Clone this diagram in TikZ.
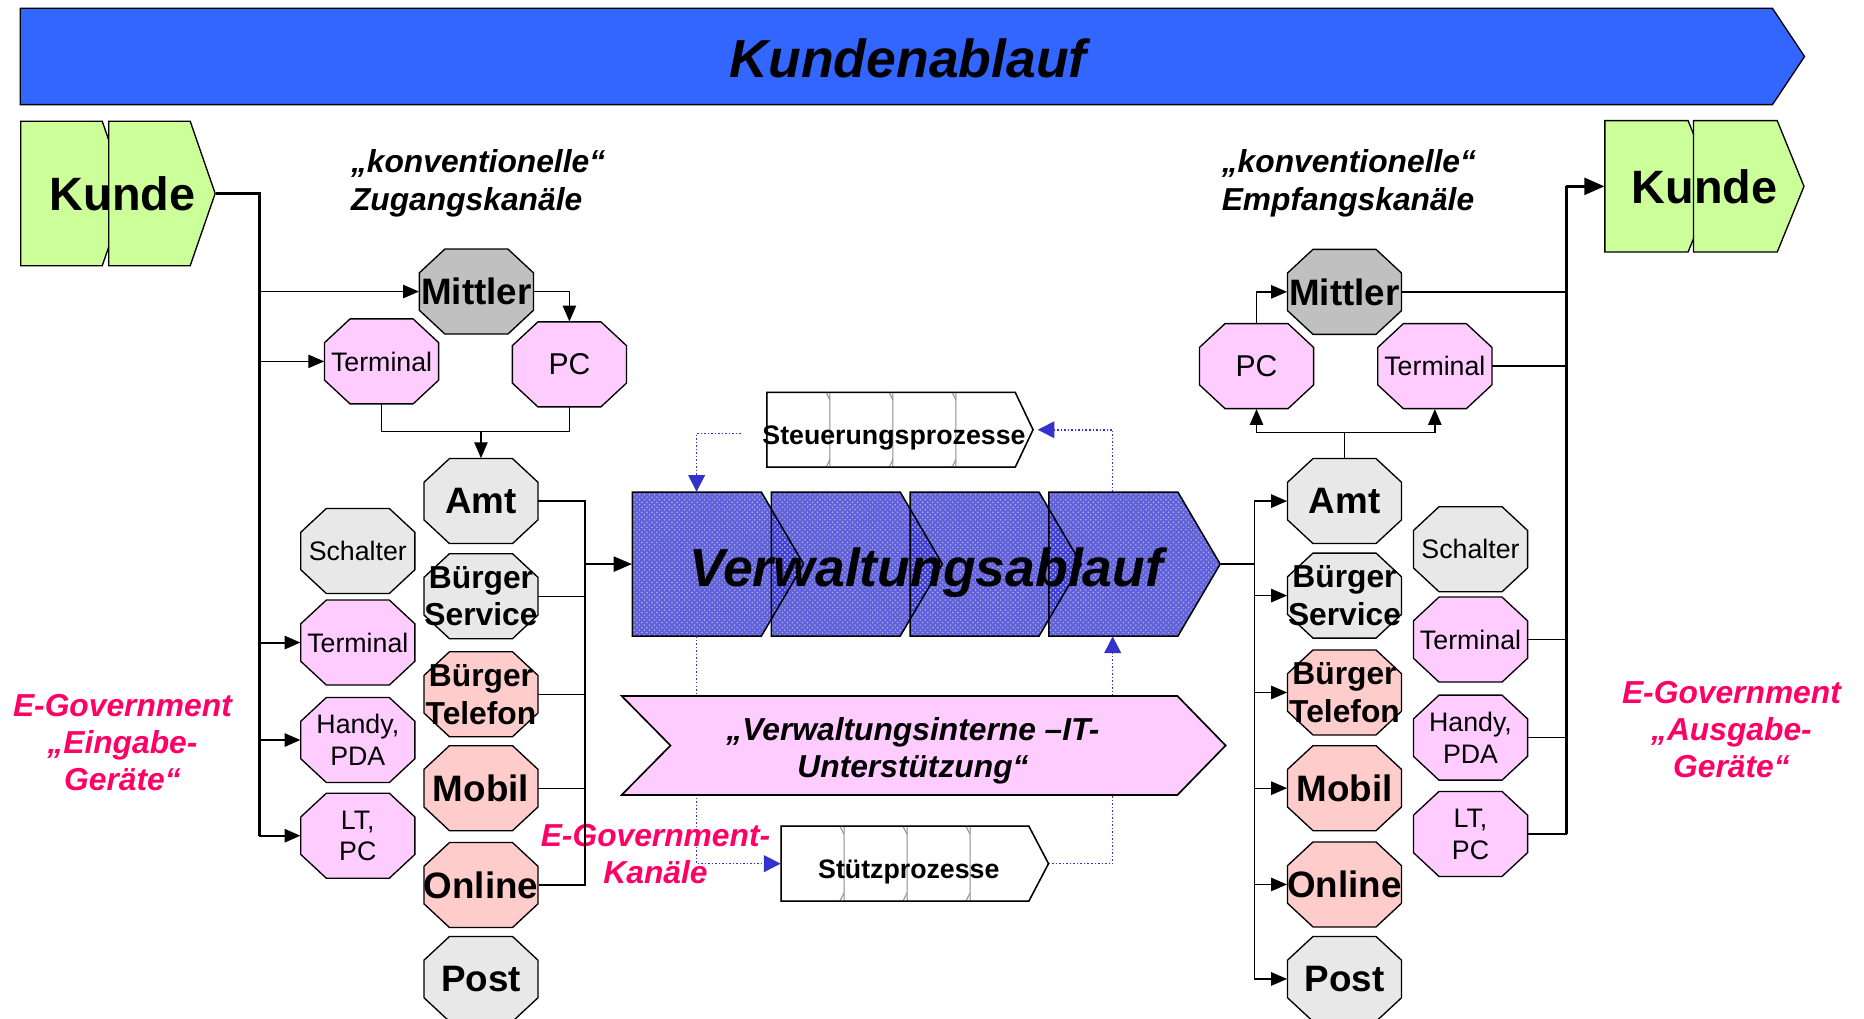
\documentclass[tikz,border=0pt]{standalone}
\usepackage{fontspec}
\setmainfont{Liberation Sans}
\usetikzlibrary{arrows.meta,patterns}
\definecolor{FlowBlue}{HTML}{3366FF}
\definecolor{KundeGreen}{HTML}{CCFF99}
\definecolor{MittlerGray}{HTML}{C0C0C0}
\definecolor{OfficeGray}{HTML}{E8E8E8}
\definecolor{DevicePink}{HTML}{FFCCFF}
\definecolor{ChannelRose}{HTML}{FFCCCC}
\definecolor{GovMagenta}{HTML}{FF0066}
\definecolor{DotBlue}{HTML}{3333CC}
\definecolor{AdminBlue}{HTML}{3A3ACF}
\tikzset{
  octbox/.style={minimum width=68.3pt, minimum height=50.9pt, inner sep=0pt, align=center, text depth=0pt},
  octbig/.style={octbox, font=\fontsize{22}{24}\selectfont\bfseries},
  octtwo/.style={octbox, font=\fontsize{19}{22.5}\selectfont\bfseries},
  octsmall/.style={octbox, font=\fontsize{16}{19}\selectfont},
  octpc/.style={octbox, font=\fontsize{18}{20}\selectfont},
  area/.style 2 args={minimum width=#1*0.7113pt, minimum height=#2*0.7113pt, inner sep=0pt, text depth=0pt},
  caption/.style={font=\fontsize{19}{22.8}\selectfont\bfseries\itshape, align=left, text depth=0pt, inner sep=0pt},
  govtext/.style={font=\fontsize{19}{22.2}\selectfont\bfseries\itshape, text=GovMagenta, align=center, text depth=0pt, inner sep=0pt},
  wire/.style={line width=0.8pt},
  arrowlink/.style={line width=0.8pt, -{Triangle[length=9.5pt,width=8pt]}},
  bus/.style={line width=1.8pt},
  dotlink/.style={DotBlue, line width=0.9pt, dash pattern=on 0.9pt off 1.2pt, -{Triangle[length=10pt,width=10pt]}},
}
\begin{document}
\begin{tikzpicture}[x=0.025cm,y=-0.025cm]
\useasboundingbox (0,0) rectangle (1568,857);
\draw[fill=FlowBlue, line width=0.8pt] (17,7) -- (1491,7) -- (1518,47.5) -- (1491,88) -- (17,88) -- cycle;
\node[inner sep=0pt, text depth=0pt, font=\fontsize{32}{36}\selectfont\bfseries\itshape] (flow) at (764,48.6) {Kundenablauf};
\draw[fill=KundeGreen, line width=0.8pt] (17.5,102) -- (86,102) -- (107,162.75) -- (86,223.5) -- (17.5,223.5) -- cycle;
\draw[fill=KundeGreen, line width=0.8pt] (91.5,102) -- (160,102) -- (181,162.75) -- (160,223.5) -- (91.5,223.5) -- cycle;
\node[area={163.5}{121.5}, font=\fontsize{28}{32}\selectfont\bfseries] (kundeL) at (99.25,162.75) {\hspace*{0.2cm}Kunde};
\draw[fill=KundeGreen, line width=0.8pt] (1350,101.5) -- (1420,101.5) -- (1442.5,156.75) -- (1420,212) -- (1350,212) -- cycle;
\draw[fill=KundeGreen, line width=0.8pt] (1424.5,101.5) -- (1495,101.5) -- (1517.5,156.75) -- (1495,212) -- (1424.5,212) -- cycle;
\node[area={167.5}{110.5}, font=\fontsize{28}{32}\selectfont\bfseries] (kundeR) at (1433.75,156.75) {Kunde};
\node[caption, anchor=west] (accessNote) at (295,151.4) {„konventionelle“\\Zugangskanäle};
\node[caption, anchor=west] (receiveNote) at (1027.5,151.4) {„konventionelle“\\Empfangskanäle};
\foreach \x/\y/\col in {400.75/245.25/MittlerGray, 321/304/DevicePink, 479/306.5/DevicePink,
    404.6/421.5/OfficeGray, 301/463.5/OfficeGray, 404.6/501.5/OfficeGray, 301/540.5/DevicePink,
    404.6/584/ChannelRose, 301/622.5/DevicePink, 404.6/663/ChannelRose, 301/703/DevicePink,
    404.6/744.5/ChannelRose, 404.6/823.5/OfficeGray,
    1131/245.5/MittlerGray, 1057/308/DevicePink, 1207/308/DevicePink, 1131/421.5/OfficeGray,
    1237/462/OfficeGray, 1131/501/OfficeGray, 1237/538/DevicePink, 1131/582.5/ChannelRose,
    1237/620.5/DevicePink, 1131/663/ChannelRose, 1237/701.5/DevicePink, 1131/744/ChannelRose,
    1131/823.5/OfficeGray}
  \draw[fill=\col, line width=0.8pt, shift={(\x,\y)}] (-26.5,-35.75) -- (26.5,-35.75) -- (48,-15.75) -- (48,15.75)
    -- (26.5,35.75) -- (-26.5,35.75) -- (-48,15.75) -- (-48,-15.75) -- cycle;
\node[octbig] (mittlerL) at (400.75,245.25) {Mittler};
\node[octsmall] (termL) at (321,304) {Terminal};
\node[octpc] (pcL) at (479,306.5) {PC};
\node[octbig] (amtL) at (404.6,421.5) {Amt};
\node[octsmall] (schalterL) at (301,463.5) {Schalter};
\node[octtwo] (serviceL) at (404.6,501.5) {Bürger\\Service};
\node[octsmall] (kioskL) at (301,540.5) {Terminal};
\node[octtwo] (phoneL) at (404.6,584) {Bürger\\Telefon};
\node[octsmall] (handyL) at (301,622.5) {Handy,\\PDA};
\node[octbig] (mobilL) at (404.6,663) {Mobil};
\node[octsmall] (laptopL) at (301,703) {LT,\\PC};
\node[octbig] (onlineL) at (404.6,744.5) {Online};
\node[octbig] (postL) at (404.6,823.5) {Post};
\node[octbig] (mittlerR) at (1131,245.5) {Mittler};
\node[octpc] (pcR) at (1057,308) {PC};
\node[octsmall] (termR) at (1207,308) {Terminal};
\node[octbig] (amtR) at (1131,421.5) {Amt};
\node[octsmall] (schalterR) at (1237,462) {Schalter};
\node[octtwo] (serviceR) at (1131,501) {Bürger\\Service};
\node[octsmall] (kioskR) at (1237,538) {Terminal};
\node[octtwo] (phoneR) at (1131,582.5) {Bürger\\Telefon};
\node[octsmall] (handyR) at (1237,620.5) {Handy,\\PDA};
\node[octbig] (mobilR) at (1131,663) {Mobil};
\node[octsmall] (laptopR) at (1237,701.5) {LT,\\PC};
\node[octbig] (onlineR) at (1131,744) {Online};
\node[octbig] (postR) at (1131,823.5) {Post};
\foreach \k in {0,...,3}
  \fill[AdminBlue, fill opacity=0.8] ({532+116.8*\k},414) -- ++(108.5,0) -- ++(35.5,60.5) -- ++(-35.5,60.5) -- ++(-108.5,0) -- cycle;
\foreach \k in {0,...,3}
  \fill[pattern=crosshatch dots, pattern color=AdminBlue!40!white] ({532+116.8*\k},414) -- ++(108.5,0) -- ++(35.5,60.5) -- ++(-35.5,60.5) -- ++(-108.5,0) -- cycle;
\foreach \k in {0,...,3}
  \draw[line width=0.9pt] ({532+116.8*\k},414) -- ++(108.5,0) -- ++(35.5,60.5) -- ++(-35.5,60.5) -- ++(-108.5,0) -- cycle;
\node[area={494.4}{121}, text height=26.5pt, font=\fontsize{32}{36}\selectfont\bfseries\itshape] (verw) at (779.2,474.5) {Verwaltungsablauf};
\foreach \k in {0,...,3}
  \draw[fill=white, draw=black!45, line width=0.6pt] ({645+53*\k},330) -- ++(50,0) -- ++(15,31.5) -- ++(-15,31.5) -- ++(-50,0) -- cycle;
\draw[line width=0.9pt] (645,330) -- (854,330) -- (869,361.5) -- (854,393) -- (645,393) -- cycle;
\node[area={224}{63}, text height=17.2pt, font=\fontsize{16}{19}\selectfont\bfseries] (steuer) at (757,361.5) {Steuerungsprozesse\hspace*{0.25cm}};
\foreach \k in {0,...,3}
  \draw[fill=white, draw=black!45, line width=0.6pt] ({657+53*\k},695) -- ++(49.5,0) -- ++(16.5,31.5) -- ++(-16.5,31.5) -- ++(-49.5,0) -- cycle;
\draw[line width=0.9pt] (657,695) -- (865.5,695) -- (882,726.5) -- (865.5,758) -- (657,758) -- cycle;
\node[area={225}{63}, text height=17.2pt, font=\fontsize{16}{19}\selectfont\bfseries] (stuetz) at (769.5,726.5) {Stützprozesse\hspace*{0.25cm}};
\coordinate (ctrlL) at (586,0);
\coordinate (ctrlR) at (936,0);
\draw[dotlink, shorten <=12.8pt] ([yshift=-2.1pt]steuer.west) -| (ctrlL |- verw.north);
\draw[dotlink] (ctrlR |- verw.north) |- (steuer.east);
\draw[dotlink] (ctrlL |- verw.south) |- (stuetz.west);
\draw[dotlink] (stuetz.east) -| (ctrlR |- verw.south);
\draw[fill=DevicePink, line width=1pt] (523,585.5) -- (990.5,585.5) -- (1031,627.1) -- (990.5,668.7) -- (523,668.7) -- (564,627.1) -- cycle;
\node[inner sep=0pt, text depth=0pt, align=center, font=\fontsize{19}{22.3}\selectfont\bfseries\itshape] (itsup) at (768,628.9) {„Verwaltungsinterne –IT-\\Unterstützung“};
\node[govtext] (govIn) at (103,624.5) {E-Government\\„Eingabe-\\Geräte“};
\node[govtext] (govOut) at (1456.5,613.4) {E-Government\\„Ausgabe-\\Geräte“};
\node[govtext] (govChannel) at (551.4,718.5) {E-Government-\\Kanäle};
\coordinate (busL) at (218,162.75);
\draw[bus] (kundeL) -| (busL |- laptopL);
\foreach \n in {mittlerL,termL} \draw[arrowlink] (busL |- \n) -- (\n);
\foreach \n in {kioskL,handyL,laptopL} \draw[arrowlink, line width=1.2pt] (busL |- \n) -- (\n);
\draw[arrowlink] (mittlerL) -| (pcL);
\coordinate (joinL) at (404.6,363);
\draw[wire] (termL) |- (joinL);
\draw[wire] (pcL) |- (joinL);
\draw[arrowlink] (joinL) -- (amtL);
\coordinate (busM) at (492,474.5);
\foreach \n in {amtL,serviceL,phoneL,mobilL,onlineL} \draw[wire] (\n) -| (busM);
\draw[line width=1.3pt, -{Triangle[length=11pt,width=9pt]}] (busM) -- (verw);
\coordinate (busN) at (1055,474.5);
\draw[wire, line width=1.3pt] (verw) -- (busN);
\foreach \n in {amtR,serviceR,phoneR,mobilR,onlineR,postR} \draw[arrowlink] (busN) |- (\n);
\coordinate (joinR) at (1131,364);
\draw[wire] (amtR) -- (joinR);
\draw[arrowlink] (joinR) -| (pcR);
\draw[arrowlink] (joinR) -| (termR);
\draw[arrowlink] (pcR) |- (mittlerR);
\coordinate (busR) at (1317.5,156.75);
\foreach \n in {mittlerR,termR,kioskR,handyR,laptopR} \draw[wire] (\n) -| (busR);
\draw[bus] (busR |- laptopR) -- (busR);
\draw[bus, -{Triangle[length=12pt,width=10pt]}] (busR) -- (kundeR);
\end{tikzpicture}
\end{document}
